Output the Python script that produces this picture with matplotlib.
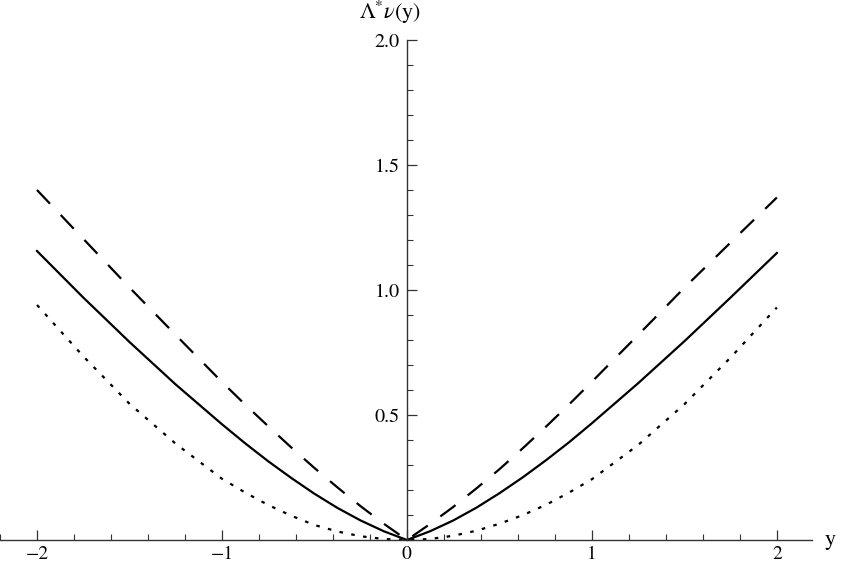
import matplotlib
matplotlib.use("Agg")
import matplotlib.pyplot as plt
from matplotlib.ticker import MultipleLocator, FixedLocator, FixedFormatter

plt.rcParams['font.family'] = ['STIXGeneral', 'DejaVu Serif']
plt.rcParams['mathtext.fontset'] = 'stix'

x_vals = [-2.0, -1.75, -1.5, -1.25, -1.0, -0.875, -0.75, -0.625, -0.5, -0.375, -0.25, -0.125, 0.0,
          0.125, 0.25, 0.375, 0.5, 0.625, 0.75, 0.875, 1.0, 1.25, 1.5, 1.75, 2.0]
dashed_vals = [1.40, 1.205, 1.01, 0.82, 0.632, 0.542, 0.455, 0.37, 0.288, 0.21, 0.135, 0.065, 0.0,
               0.064, 0.132, 0.206, 0.283, 0.366, 0.452, 0.541, 0.633, 0.82, 1.009, 1.19, 1.37]
solid_vals = [1.156, 0.97, 0.792, 0.622, 0.463, 0.387, 0.315, 0.248, 0.185, 0.128, 0.078, 0.035, 0.0,
              0.035, 0.078, 0.129, 0.187, 0.25, 0.318, 0.39, 0.467, 0.627, 0.795, 0.97, 1.148]
dotted_vals = [0.94, 0.735, 0.545, 0.385, 0.245, 0.19, 0.14, 0.097, 0.06, 0.034, 0.015, 0.004, 0.0,
               0.004, 0.017, 0.037, 0.065, 0.099, 0.14, 0.189, 0.243, 0.38, 0.543, 0.73, 0.93]

x_major = [-2, -1, 0, 1, 2]
x_labels = ['\u22122', '\u22121', '0', '1', '2']
y_major = [0.5, 1.0, 1.5, 2.0]
y_labels = ['0.5', '1.0', '1.5', '2.0']

fig = plt.figure(figsize=(8.42, 5.63), dpi=100)
ax = fig.add_axes([0.0, 23/563, 812/842, 500/563])

lw = 1.6
ax.plot(x_vals, dashed_vals, color='black', lw=lw, dashes=(8.5, 7.0), clip_on=False)
ax.plot(x_vals, solid_vals, color='black', lw=lw, clip_on=False)
ax.plot(x_vals, dotted_vals, color='black', lw=lw, dashes=(1.6, 3.8), clip_on=False)

ax.set_xlim(-2.2, 2.19)
ax.set_ylim(0, 2.0)

for s in ['top', 'right']:
    ax.spines[s].set_visible(False)
ax.spines['left'].set_position(('data', 0))
ax.spines['bottom'].set_position(('data', 0))
for s in ['left', 'bottom']:
    ax.spines[s].set_linewidth(1.0)
    ax.spines[s].set_color('#333333')

ax.xaxis.set_major_locator(FixedLocator(x_major))
ax.xaxis.set_major_formatter(FixedFormatter(x_labels))
ax.xaxis.set_minor_locator(MultipleLocator(0.2))
ax.yaxis.set_major_locator(FixedLocator(y_major))
ax.yaxis.set_major_formatter(FixedFormatter(y_labels))
ax.yaxis.set_minor_locator(MultipleLocator(0.1))

ax.tick_params(axis='x', which='major', direction='in', length=7, width=0.9, labelsize=14, pad=4, color='#333333')
ax.tick_params(axis='x', which='minor', direction='in', length=4, width=0.8, color='#333333')
ax.tick_params(axis='y', which='major', direction='in', length=7, width=0.9, labelsize=14.5, pad=5, color='#333333')
ax.tick_params(axis='y', which='minor', direction='in', length=4, width=0.8, color='#333333')
ax.tick_params(axis='y', which='both', left=True, right=False)
ax.tick_params(axis='x', which='both', bottom=True, top=False)

ax.text(2.26, 0.0, 'y', fontsize=16, ha='left', va='center', clip_on=False)
ax.text(-0.09, 2.055, r'$\Lambda^{*}\nu$(y)', fontsize=16, ha='center', va='bottom', clip_on=False)

fig.savefig('out.png', dpi=100)
